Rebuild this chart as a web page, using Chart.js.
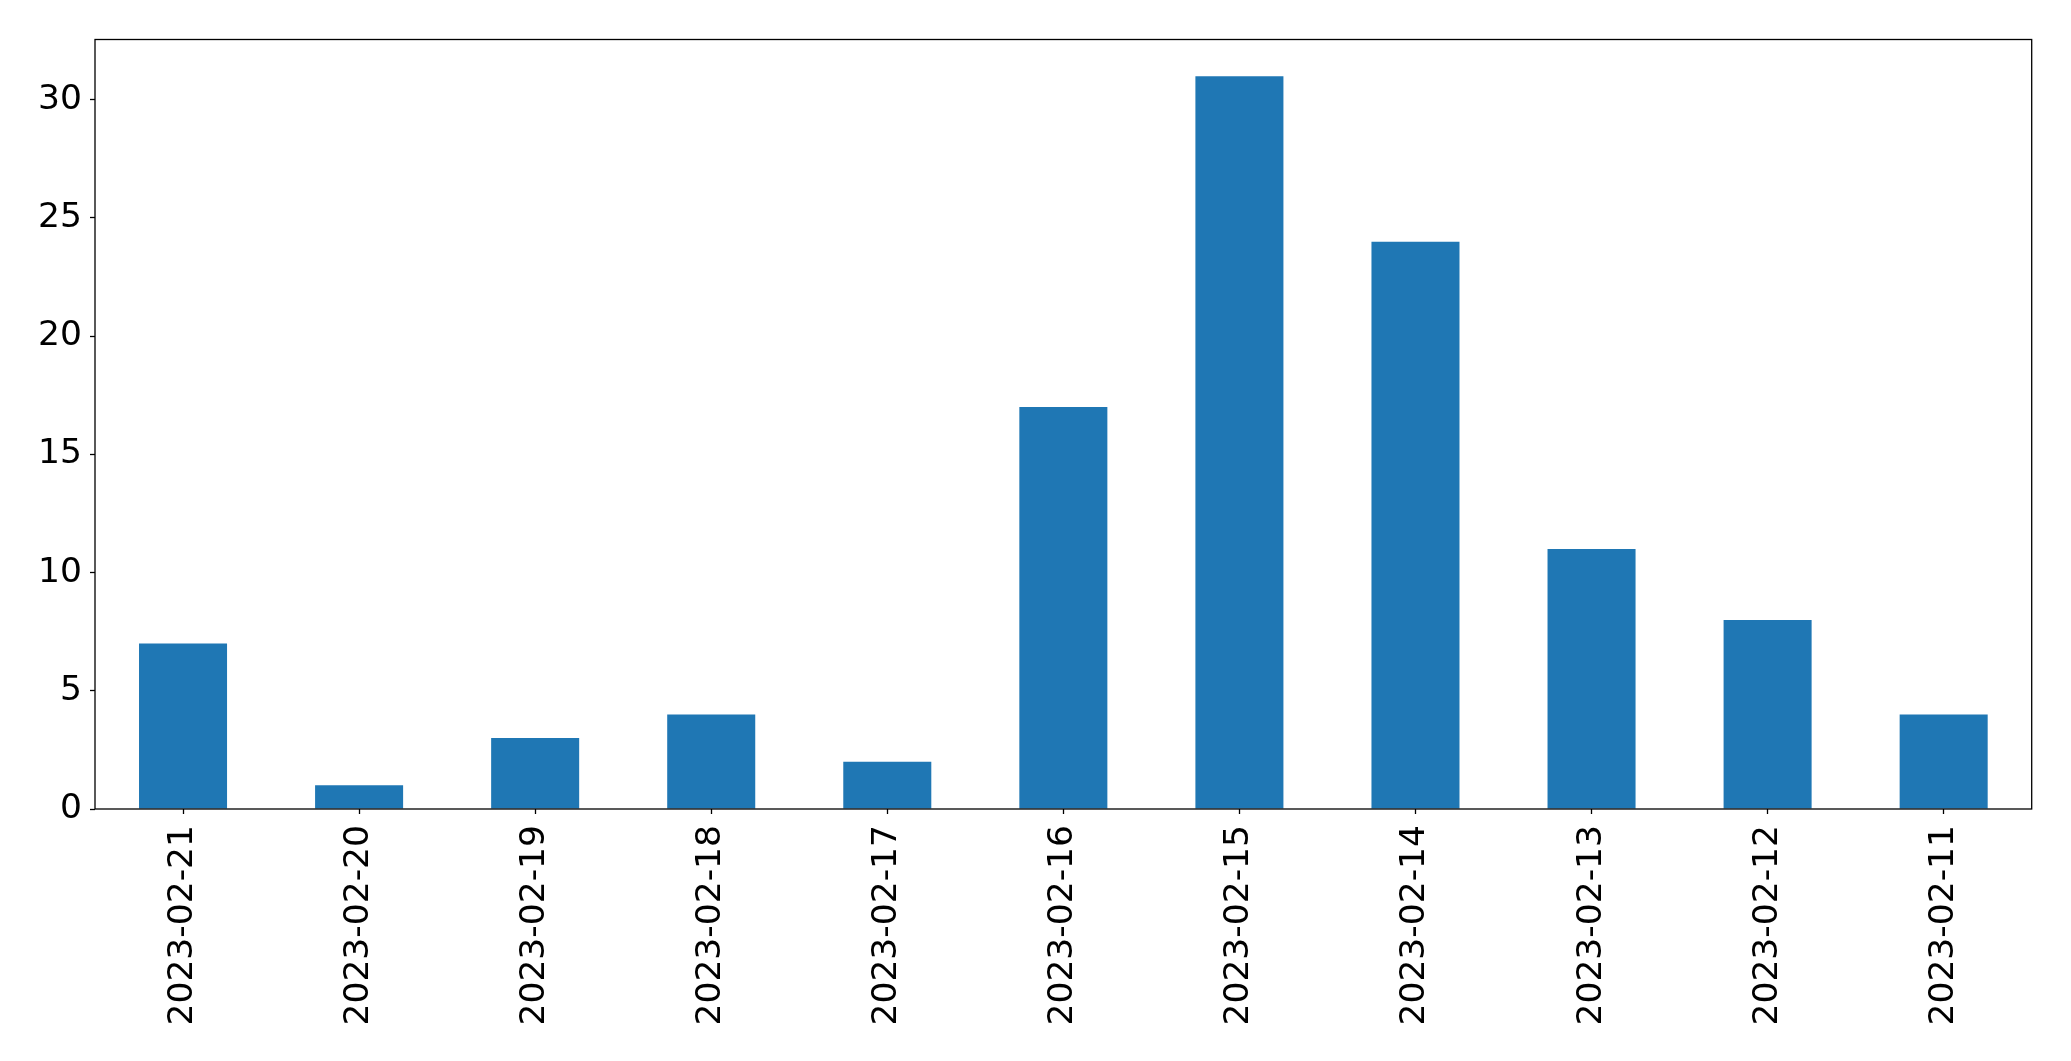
<!DOCTYPE html>
<html>
<head>
<meta charset="utf-8">
<script src="https://cdn.jsdelivr.net/npm/chart.js@4"></script>
<style>
html,body{margin:0;padding:0;background:#fff;}
canvas{display:block;}
</style>
</head>
<body>
<canvas id="c" width="2071" height="1061"></canvas>
<script>
const categories = ["2023-02-21","2023-02-20","2023-02-19","2023-02-18","2023-02-17","2023-02-16","2023-02-15","2023-02-14","2023-02-13","2023-02-12","2023-02-11"];
const counts = [7, 1, 3, 4, 2, 17, 31, 24, 11, 8, 4];
const yTicks = [0, 5, 10, 15, 20, 25, 30];

const FONT = {family: "'DejaVu Sans'", size: 34.5};

const frame = {
  id: 'frame',
  afterDatasetsDraw(chart) {
    const a = chart.chartArea, ctx = chart.ctx;
    ctx.save();
    ctx.strokeStyle = '#000';
    ctx.lineWidth = 1.3;
    ctx.strokeRect(a.left, a.top, a.right - a.left, a.bottom - a.top);
    ctx.restore();
  }
};

new Chart(document.getElementById('c'), {
  type: 'bar',
  data: {
    labels: categories,
    datasets: [{
      data: counts,
      backgroundColor: '#1f77b4',
      borderWidth: 0,
      barPercentage: 0.5,
      categoryPercentage: 1.0
    }]
  },
  options: {
    responsive: false,
    animation: false,
    devicePixelRatio: 1,
    layout: {padding: {top: 39.5, right: 39.3, left: 0, bottom: 0}},
    plugins: {legend: {display: false}, tooltip: {enabled: false}},
    scales: {
      x: {
        grid: {display: true, offset: false, drawOnChartArea: false, drawTicks: true, tickLength: 5, tickColor: '#000', tickWidth: 1.3},
        border: {display: false},
        ticks: {color: '#000', font: FONT, minRotation: 90, maxRotation: 90, padding: 11, autoSkip: false},
        afterFit(s) { s.height = 252; }
      },
      y: {
        min: 0,
        max: 32.55,
        afterBuildTicks(s) { s.ticks = yTicks.map(v => ({value: v})); },
        grid: {display: true, drawOnChartArea: false, drawTicks: true, tickLength: 5, tickColor: '#000', tickWidth: 1.3},
        border: {display: false},
        ticks: {color: '#000', font: FONT, padding: 8},
        afterFit(s) { s.width = 95; }
      }
    }
  },
  plugins: [frame]
});
</script>
</body>
</html>
